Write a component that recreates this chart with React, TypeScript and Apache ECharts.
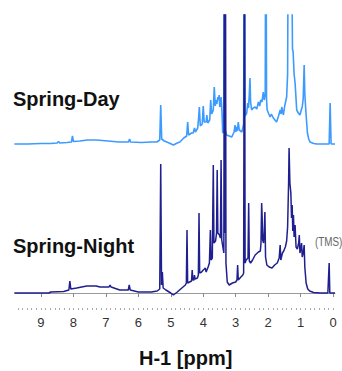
import React, { useEffect, useRef } from "react";
import * as echarts from "echarts";

// [chemical shift (ppm), intensity above own baseline]
const springDay: [number, number][] = [
  [9.82, 0], [9.4, 0], [9.0, 0.5], [8.7, 0.5], [8.5, 1], [8.46, 2.5], [8.42, 1], [8.2, 1.5],
  [8.06, 2], [8.03, 8], [8.0, 2.5], [7.8, 3], [7.57, 4], [7.3, 4], [6.93, 3], [6.6, 2],
  [6.3, 2], [6.27, 5], [6.24, 2], [5.9, 1.5], [5.6, 2], [5.43, 2], [5.34, 4], [5.31, 39],
  [5.28, 5], [5.2, 3], [5.05, 1], [4.92, -1], [4.8, 1], [4.72, 2], [4.6, 6], [4.51, 8],
  [4.48, 22], [4.45, 9], [4.36, 11], [4.31, 11], [4.27, 16], [4.24, 12], [4.17, 16],
  [4.14, 27], [4.12, 37], [4.09, 18], [4.03, 20], [4.0, 38], [3.97, 22], [3.91, 22],
  [3.89, 29], [3.86, 21], [3.8, 24], [3.77, 44], [3.74, 30], [3.69, 34], [3.66, 57],
  [3.63, 38], [3.61, 44], [3.58, 40], [3.55, 47], [3.53, 44], [3.51, 49], [3.49, 37],
  [3.47, 40], [3.45, 47], [3.42, 30], [3.4, 11], [3.37, 12], [3.345, 300], [3.32, 14],
  [3.28, 9], [3.2, 8], [3.12, 7], [3.05, 12], [3.02, 19], [3.0, 12], [2.97, 17], [2.95, 13],
  [2.92, 22], [2.89, 14], [2.81, 12], [2.755, 20], [2.73, 300], [2.71, 28], [2.66, 31],
  [2.63, 41], [2.605, 36], [2.58, 50], [2.56, 66], [2.54, 42], [2.51, 34], [2.46, 36],
  [2.4, 37], [2.35, 35], [2.3, 42], [2.26, 38], [2.23, 44], [2.19, 42], [2.15, 52],
  [2.12, 44], [2.09, 50], [2.07, 300], [2.05, 45], [2.03, 34], [1.98, 30], [1.94, 27],
  [1.9, 30], [1.84, 26], [1.79, 24], [1.74, 22], [1.68, 28], [1.63, 34], [1.6, 30],
  [1.58, 37], [1.55, 32], [1.53, 29], [1.49, 38], [1.43, 47], [1.4, 70], [1.37, 300],
  [1.3, 300], [1.25, 95], [1.23, 92], [1.2, 70], [1.17, 61], [1.14, 45], [1.12, 34],
  [1.07, 31], [1.02, 29], [0.97, 35], [0.95, 37], [0.92, 45], [0.89, 79], [0.87, 50],
  [0.84, 34], [0.81, 20], [0.79, 11], [0.75, 5], [0.71, 2], [0.6, 0.5], [0.5, 0],
  [0.2, 0], [0.12, 0], [0.09, 41], [0.06, 0], [-0.06, 0],
];

const springNight: [number, number][] = [
  [9.82, 0], [9.0, 0], [8.75, 0], [8.7, 1], [8.3, 1.5], [8.14, 3], [8.11, 12], [8.08, 4],
  [7.9, 5], [7.59, 7], [7.3, 7], [7.18, 6], [6.9, 6], [6.87, 8], [6.84, 6], [6.57, 3],
  [6.31, 3], [6.28, 8], [6.25, 3], [6.0, 1], [5.6, 1], [5.42, 2], [5.34, 4], [5.31, 129],
  [5.285, 8], [5.26, 21], [5.235, 5], [5.15, 3], [5.0, 0], [4.92, -2], [4.8, 1], [4.66, 5],
  [4.55, 8], [4.52, 10], [4.5, 63], [4.48, 10], [4.42, 11], [4.36, 12], [4.34, 23],
  [4.32, 13], [4.285, 13], [4.27, 18], [4.25, 14], [4.18, 15], [4.15, 18], [4.13, 80],
  [4.11, 20], [4.05, 21], [4.0, 23], [3.96, 24], [3.94, 25], [3.91, 21], [3.85, 26],
  [3.81, 30], [3.78, 63], [3.76, 33], [3.72, 35], [3.69, 128], [3.67, 50], [3.62, 52],
  [3.59, 60], [3.57, 123], [3.55, 60], [3.5, 58], [3.47, 55], [3.45, 133], [3.43, 53],
  [3.39, 45], [3.365, 40], [3.345, 400], [3.325, 60], [3.315, 350], [3.3, 30], [3.26, 11],
  [3.2, 8], [3.1, 10], [3.0, 11], [2.96, 13], [2.94, 28], [2.92, 13], [2.84, 16],
  [2.78, 18], [2.755, 20], [2.73, 400], [2.71, 30], [2.68, 33], [2.62, 35], [2.6, 90],
  [2.58, 32], [2.54, 30], [2.48, 33], [2.4, 38], [2.3, 41], [2.24, 42], [2.22, 50],
  [2.2, 90], [2.185, 76], [2.17, 53], [2.14, 50], [2.12, 62], [2.1, 81], [2.08, 36],
  [2.04, 28], [1.97, 26], [1.88, 25], [1.8, 28], [1.72, 30], [1.66, 35], [1.63, 48],
  [1.61, 33], [1.56, 40], [1.52, 42], [1.47, 46], [1.43, 52], [1.4, 66], [1.37, 110],
  [1.355, 145], [1.33, 110], [1.3, 100], [1.28, 75], [1.26, 88], [1.24, 62], [1.22, 78],
  [1.2, 56], [1.17, 68], [1.14, 46], [1.1, 44], [1.06, 50], [1.04, 58], [1.02, 40],
  [0.99, 45], [0.97, 50], [0.95, 36], [0.92, 40], [0.89, 48], [0.87, 26], [0.83, 10],
  [0.78, 4], [0.72, 2], [0.6, 0.5], [0.4, 0], [0.16, 0], [0.14, 0], [0.12, 30], [0.1, 0],
  [-0.06, 0],
];

const tickLabels: number[] = [0, 1, 2, 3, 4, 5, 6, 7, 8, 9];
const seriesNames = ["Spring-Day", "Spring-Night"];
const axisTitle = "H-1 [ppm]";
const referenceLabel = "(TMS)";

const DAY_OFFSET = 149;

export default function App() {
  const ref = useRef<HTMLDivElement>(null);
  useEffect(() => {
    if (!ref.current) return;
    const chart = echarts.init(ref.current, null, { renderer: "svg" });
    const minorTicks: number[] = [];
    for (let i = 0; i <= 9 * 7 + 5; i++) minorTicks.push(i / 7);
    chart.setOption({
      animation: false,
      grid: { left: 15, right: 7, top: 15, bottom: 63 },
      xAxis: [
        {
          type: "value",
          inverse: true,
          min: -0.06,
          max: 9.8,
          axisLine: { show: true, lineStyle: { color: "#9a9a9a", width: 1 } },
          axisTick: { show: true, customValues: tickLabels, length: 4, lineStyle: { color: "#8a8a8a" } },
          axisLabel: {
            customValues: tickLabels,
            fontSize: 13,
            fontFamily: "'Liberation Sans', sans-serif",
            color: "#333",
            margin: 8,
          },
          splitLine: { show: false },
        },
        {
          type: "value",
          inverse: true,
          position: "bottom",
          min: -0.06,
          max: 9.8,
          axisLine: { show: false },
          axisTick: { show: true, customValues: minorTicks, length: 2, lineStyle: { color: "#aaa" } },
          axisLabel: { show: false },
          splitLine: { show: false },
        },
      ],
      yAxis: { type: "value", min: -15, max: 278, show: false },
      series: [
        {
          name: seriesNames[0],
          type: "line",
          data: springDay.map(([p, v]) => [p, v + DAY_OFFSET]),
          showSymbol: false,
          lineStyle: { color: "#3d9bff", width: 1.6 },
          z: 2,
        },
        {
          name: seriesNames[1],
          type: "line",
          data: springNight,
          showSymbol: false,
          lineStyle: { color: "#1f1f8f", width: 1.5 },
          z: 3,
        },
      ],
      graphic: [
        {
          type: "text",
          x: 13,
          y: 89,
          style: { text: seriesNames[0], font: "bold 20px 'Liberation Sans', Arial, sans-serif", fill: "#111" },
        },
        {
          type: "text",
          x: 13,
          y: 236,
          style: { text: seriesNames[1], font: "bold 20px 'Liberation Sans', Arial, sans-serif", fill: "#111" },
        },
        {
          type: "text",
          x: 315,
          y: 235,
          scaleX: 0.76,
          style: { text: referenceLabel, font: "13px 'Liberation Sans', sans-serif", fill: "#666" },
        },
        {
          type: "text",
          x: 139,
          y: 348,
          style: { text: axisTitle, font: "bold 20px 'Liberation Sans', Arial, sans-serif", fill: "#111" },
        },
      ],
    });
    return () => chart.dispose();
  }, []);
  return <div ref={ref} style={{ width: 342, height: 371, position: "absolute", left: 0, top: 0 }} />;
}
